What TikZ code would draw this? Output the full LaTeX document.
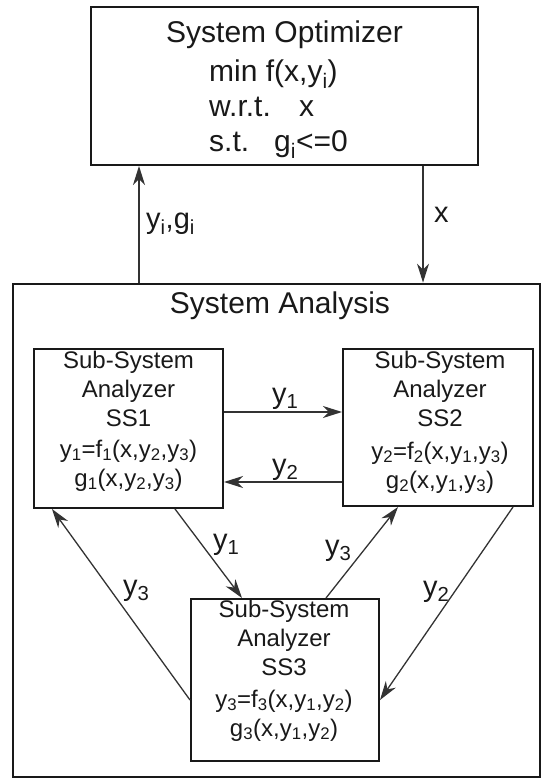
\documentclass[tikz,border=0pt]{standalone}
\usepackage{fontspec}
\setmainfont{Liberation Sans}
\usetikzlibrary{arrows.meta}
\begin{document}
\begin{tikzpicture}[x=1pt,y=-1pt,
  box/.style={draw=black!90, line width=2pt, inner sep=0pt},
  arr/.style={draw=black!80, line width=1.3pt, -{Stealth[length=19pt,width=12pt,inset=6pt]}},
  big/.style={font=\fontsize{30}{35}\selectfont, inner sep=0pt, text=black!90},
  small/.style={font=\fontsize{24}{29}\selectfont, inner sep=0pt, align=center, text=black!90},
  lbl/.style={font=\fontsize{29}{34}\selectfont, inner sep=0pt, anchor=base west, text=black!90}]
\useasboundingbox (0,0) rectangle (542,778);
% boxes
\node[box, minimum width=387pt, minimum height=158pt] (opt) at (284.5,86) {};
\node[box, line width=2.8pt, minimum width=527pt, minimum height=493pt] (sa) at (276.5,530.5) {};
\node[box, minimum width=189pt, minimum height=159pt] (ss1) at (128.5,428.5) {};
\node[box, minimum width=190pt, minimum height=157pt] (ss2) at (438,427.5) {};
\node[box, minimum width=188pt, minimum height=162pt] (ss3) at (285,680) {};
% texts
\node[big, anchor=base] (optT) at (284.5,43) {System Optimizer};
\node[big, anchor=base west] (optL1) at (209,82) {min f(x,y\textsubscript{i})};
\node[big, anchor=base west] (optL2) at (209,117) {w.r.t.};
\node[big, anchor=base west] (optL2b) at (299,117) {x};
\node[big, anchor=base west] (optL3) at (209,152) {s.t.};
\node[big, anchor=base west] (optL3b) at (274,152) {g\textsubscript{i}<=0};
\node[big, anchor=base] (saT) at (280,313) {System Analysis};
% multi-line nodes: anchor base = baseline of last line
\node[small, anchor=base] (ss1T) at (128.5,486) {Sub-System\\Analyzer\\SS1\\[2pt]y\textsubscript{1}=f\textsubscript{1}(x,y\textsubscript{2},y\textsubscript{3})\\g\textsubscript{1}(x,y\textsubscript{2},y\textsubscript{3})};
\node[small, anchor=base] (ss2T) at (440,488) {Sub-System\\Analyzer\\SS2\\[4pt]y\textsubscript{2}=f\textsubscript{2}(x,y\textsubscript{1},y\textsubscript{3})\\g\textsubscript{2}(x,y\textsubscript{1},y\textsubscript{3})};
\node[small, anchor=base] (ss3T) at (284,736) {Sub-System\\Analyzer\\SS3\\[3pt]y\textsubscript{3}=f\textsubscript{3}(x,y\textsubscript{1},y\textsubscript{2})\\g\textsubscript{3}(x,y\textsubscript{1},y\textsubscript{2})};
% labels
\node[lbl] (l1) at (272,403) {y\textsubscript{1}};
\node[lbl] (l2) at (272,474) {y\textsubscript{2}};
\node[lbl] (l3) at (213,549) {y\textsubscript{1}};
\node[lbl] (l4) at (123,595) {y\textsubscript{3}};
\node[lbl] (l5) at (325,555) {y\textsubscript{3}};
\node[lbl] (l6) at (423,596) {y\textsubscript{2}};
\node[lbl] (l7) at (146,228) {y\textsubscript{i},g\textsubscript{i}};
\node[lbl] (l8) at (434,222) {x};
% connector coordinates
\coordinate (cu) at (139,0); \coordinate (cd) at (423,0);
\coordinate (h1) at (0,412); \coordinate (h2) at (0,482);
\coordinate (a1) at (175,0); \coordinate (a2) at (242,0);
\coordinate (b1) at (0,700); \coordinate (b2) at (52,0);
\coordinate (c1) at (326,0); \coordinate (c2) at (398,0);
\coordinate (d1) at (513,0); \coordinate (d2) at (0,700);
% connectors
\draw[arr] (sa.north -| cu) -- (opt.south -| cu);
\draw[arr] (opt.south -| cd) -- (sa.north -| cd);
\draw[arr] (ss1.east |- h1) -- (ss2.west |- h1);
\draw[arr] (ss2.west |- h2) -- (ss1.east |- h2);
\draw[arr] (ss1.south -| a1) -- (ss3.north -| a2);
\draw[arr] (ss3.west |- b1) -- (ss1.south -| b2);
\draw[arr] (ss3.north -| c1) -- (ss2.south -| c2);
\draw[arr] (ss2.south -| d1) -- (ss3.east |- d2);
\end{tikzpicture}
\end{document}
